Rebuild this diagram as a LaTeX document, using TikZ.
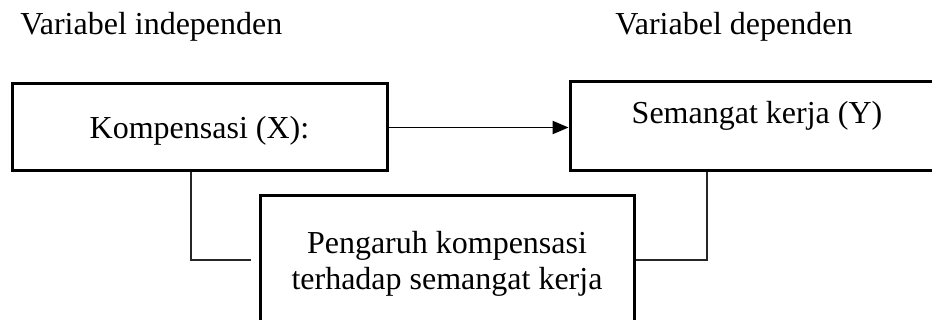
\documentclass[tikz,border=0pt]{standalone}
\usepackage{fontspec}
\setmainfont{Liberation Serif}
\usetikzlibrary{arrows.meta}
\begin{document}
\begin{tikzpicture}[x=0.75pt,y=-0.75pt,
  every node/.style={inner sep=0pt,font=\fontsize{24}{27}\selectfont},
  varbox/.style={draw=black,line width=2.25pt,rectangle,text height=15.9pt,align=center},
  label/.style={anchor=base west},
  link/.style={draw=black!85,line width=0.8pt},
  flow/.style={draw=black,line width=1pt,-{Triangle[length=12pt,width=10pt]}}]
\useasboundingbox (0,0) rectangle (932,320);
\clip (0,0) rectangle (932,320);
\node[label] (lind) at (20,35) {Variabel independen};
\node[label] (ldep) at (615,35) {Variabel dependen};
\node[varbox,minimum width=281.25pt,minimum height=65.25pt,text depth=0pt] (kx) at (199.5,127.5) {Kompensasi (X):};
\node[varbox,minimum width=280.5pt,minimum height=66.75pt,text depth=19.65pt] (sk) at (757,126.5) {Semangat kerja (Y)};
\node[draw=black,line width=2.25pt,rectangle,align=center,anchor=north,minimum width=280.5pt] (pk) at (447,194) {\rule{0pt}{43.5pt}Pengaruh kompensasi\\terhadap semangat kerja\rule[-57pt]{0pt}{57pt}};
\draw[flow] (kx.east) -- (kx.east -| sk.west);
\coordinate (c1) at (191,260);
\coordinate (c1end) at (251,260);
\coordinate (c2) at (707,260);
\draw[link] (kx.south -| c1) |- (c1end);
\draw[link] (sk.south -| c2) |- (pk.east |- c2);
\end{tikzpicture}
\end{document}
